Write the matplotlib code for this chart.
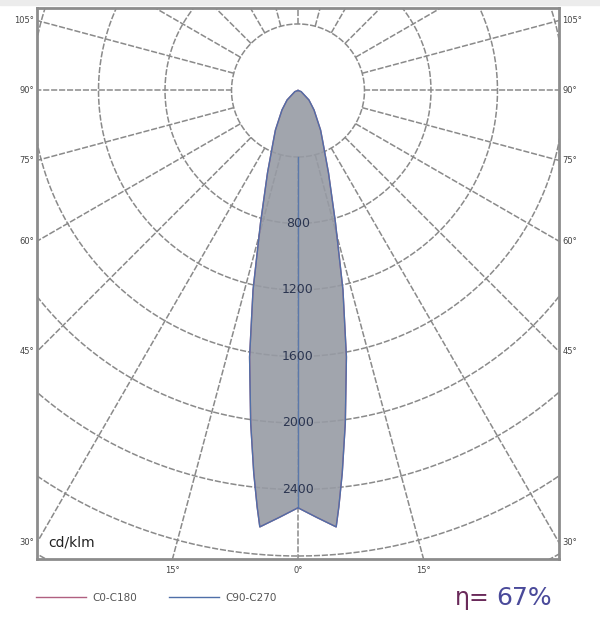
import numpy as np
import matplotlib
matplotlib.use("Agg")
import matplotlib.pyplot as plt

# luminous intensity distribution (cd/klm), half curve, angle from nadir in degrees
angles = [0, 2.5, 5, 5.6, 6.6, 8.1, 10.3, 12.7, 15.8, 20.3, 26.3, 29.7, 39.4, 49, 70, 90]
intensity = [2510, 2570, 2635, 2517, 2316, 2020, 1629, 1230, 828, 529, 332, 274, 152, 87, 20, 0]

circle_values = [400, 800, 1200, 1600, 2000, 2400, 2800, 3200]
circle_labels = [800, 1200, 1600, 2000, 2400]
side_angles = [30, 45, 60, 75, 90, 105]
bottom_angles = [-15, 0, 15]
legend_names = ["C0-C180", "C90-C270"]
efficiency = "67%"

grid_col = "#8a8a8a"

fig = plt.figure(figsize=(6.0, 6.17), dpi=100)
ax = fig.add_axes([37/600, 58/617, 522/600, 551/617])
xmax, ytop, ybot = 1570, 496, -2818
ax.set_xlim(-xmax, xmax)
ax.set_ylim(ybot, ytop)
ax.set_xticks([])
ax.set_yticks([])
for s in ax.spines.values():
    s.set_color("#8c8c8c")
    s.set_linewidth(2)

# polar grid
t = np.linspace(0, 2*np.pi, 721)
for r in circle_values:
    ax.plot(r*np.sin(t), -r*np.cos(t), color=grid_col, lw=1.1, ls=(0, (4, 1.2)), zorder=1)
for a in range(-180, 180, 15):
    th = np.radians(a)
    ax.plot([400*np.sin(th), 4000*np.sin(th)], [-400*np.cos(th), -4000*np.cos(th)],
            color=grid_col, lw=1.1, ls=(0, (4, 1.2)), zorder=1)

# curve (symmetric), full closed outline
full_ang = np.radians(np.concatenate([-np.array(angles[::-1]), np.array(angles[1:])]))
full_int = np.concatenate([np.array(intensity[::-1]), np.array(intensity[1:])])
cx = full_int*np.sin(full_ang)
cy = -full_int*np.cos(full_ang)
poly = ax.fill(cx, cy, color="#979ba4", alpha=0.9, zorder=2, lw=0)[0]
ln1, = ax.plot(cx, cy, color="#b06080", lw=1.0, zorder=3, label=legend_names[0])
ln2, = ax.plot(cx, cy, color="#4f6fa8", lw=1.0, zorder=4, label=legend_names[1])
axis_line, = ax.plot([0, 0], [-400, ybot], color="#5a78aa", lw=1.0, zorder=3)
axis_line.set_clip_path(poly)

for v in circle_labels:
    ax.text(0, -v, str(v), ha="center", va="center", fontsize=9, color="#2b3550", zorder=5)

ax.text(-1500, -2720, "cd/klm", fontsize=10, color="#222222", ha="left", va="center")

# angle labels on frame
for a in side_angles:
    y = -xmax/np.tan(np.radians(a))
    ax.text(-0.006, y, f"{a}°", transform=ax.get_yaxis_transform(), ha="right", va="center",
            fontsize=6, color="#444444", clip_on=False)
    ax.text(1.006, y, f"{a}°", transform=ax.get_yaxis_transform(), ha="left", va="center",
            fontsize=6, color="#444444", clip_on=False)
for a in bottom_angles:
    x = ybot*-np.tan(np.radians(a))
    ax.text(x, -0.012, f"{abs(a)}°", transform=ax.get_xaxis_transform(), ha="center", va="top",
            fontsize=6, color="#444444", clip_on=False)

fig.legend(handles=[ln1, ln2], loc="center left", bbox_to_anchor=(27/600, 1-598/617),
           ncol=2, frameon=False, fontsize=7.5, handlelength=4.8, handletextpad=0.6,
           columnspacing=3.0, labelcolor="#555555")

fig.text(455/600, 1-598/617, "η=", fontsize=17, color="#6a2a5a", ha="left", va="center")
fig.text(496/600, 1-598/617, efficiency, fontsize=18, color="#4a4a9a", ha="left", va="center")

fig.patches.append(plt.Rectangle((0, 1-5/617), 1, 5/617, transform=fig.transFigure,
                                 color="#ececec", zorder=0))

fig.savefig("out.png", dpi=100)
